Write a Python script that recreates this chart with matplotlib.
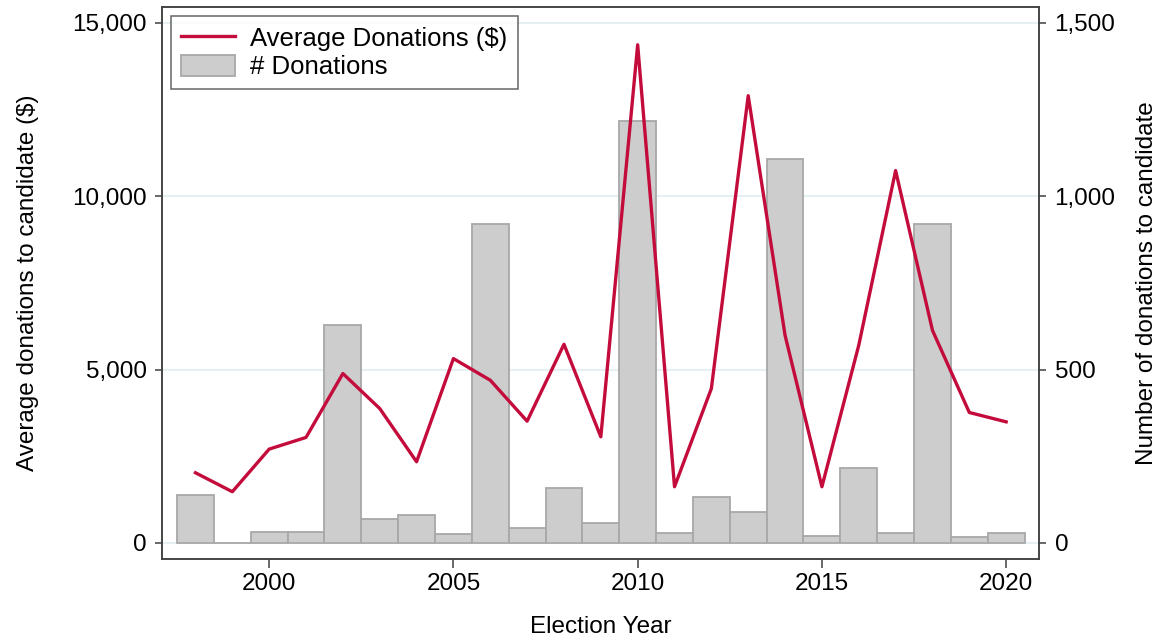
import matplotlib
matplotlib.use("Agg")
import matplotlib.pyplot as plt
from matplotlib.ticker import FuncFormatter

plt.rcParams['font.family'] = ['Liberation Sans', 'DejaVu Sans']

years = list(range(1998, 2021))
n_donations = [138, 1, 32, 31, 628, 69, 81, 26, 921, 43, 158, 58, 1218,
               29, 132, 89, 1108, 21, 216, 29, 921, 18, 28]
avg_donation = [2024, 1477, 2706, 3043, 4885, 3877, 2341, 5316, 4692, 3512,
                5728, 3060, 14364, 1621, 4453, 12896, 5987, 1621, 5700,
                10737, 6131, 3762, 3492]

fig = plt.figure(figsize=(11.61, 6.44), dpi=100)
ax = fig.add_axes([0.1398, 0.1325, 0.7554, 0.8566])
ax2 = ax.twinx()

# bars on right axis, line on left axis (line drawn on top)
bars = ax2.bar(years, n_donations, width=1.0, color="#cdcdcd",
               edgecolor="#a8a8a8", linewidth=1.3, label="# Donations", zorder=2)
ax.set_zorder(ax2.get_zorder() + 1)
ax.patch.set_visible(False)
line, = ax.plot(years, avg_donation, color="#c40c3c", lw=2.4,
                label="Average Donations ($)", zorder=3)

ax.set_xlim(1997.1, 2020.9)
ax.set_ylim(-453, 15453)
ax2.set_ylim(-45.3, 1545.3)
ax.set_yticks([0, 5000, 10000, 15000])
ax2.set_yticks([0, 500, 1000, 1500])
ax.set_xticks([2000, 2005, 2010, 2015, 2020])

fmt = FuncFormatter(lambda v, p: f"{int(v):,}")
ax.yaxis.set_major_formatter(fmt)
ax2.yaxis.set_major_formatter(fmt)

for y in [0, 500, 1000, 1500]:
    ax2.axhline(y, color="#e6eff1", lw=1.5, zorder=0)

for a in (ax, ax2):
    a.tick_params(labelsize=17.5, length=5, width=1.1, color="#404040", pad=6)
    for s in a.spines.values():
        s.set_color("#404040")
        s.set_linewidth(1.1)
ax.tick_params(axis="x", length=6.5, pad=4)

ax.set_xlabel("Election Year", fontsize=17.5, labelpad=15)
ax.set_ylabel("Average donations to candidate ($)", fontsize=17.5, labelpad=24)
ax2.set_ylabel("Number of donations to candidate", fontsize=17.5, labelpad=15)

leg = ax.legend([line, bars], ["Average Donations ($)", "# Donations"],
                loc="upper left", bbox_to_anchor=(0.0096, 0.9837), fontsize=18.5,
                frameon=True, fancybox=False, edgecolor="#404040",
                borderpad=0.4, labelspacing=0.15, handlelength=2.1,
                handleheight=0.9, handletextpad=0.6, borderaxespad=0)
leg.get_frame().set_linewidth(1.1)

fig.savefig("out.png", dpi=100)
plt.close()
